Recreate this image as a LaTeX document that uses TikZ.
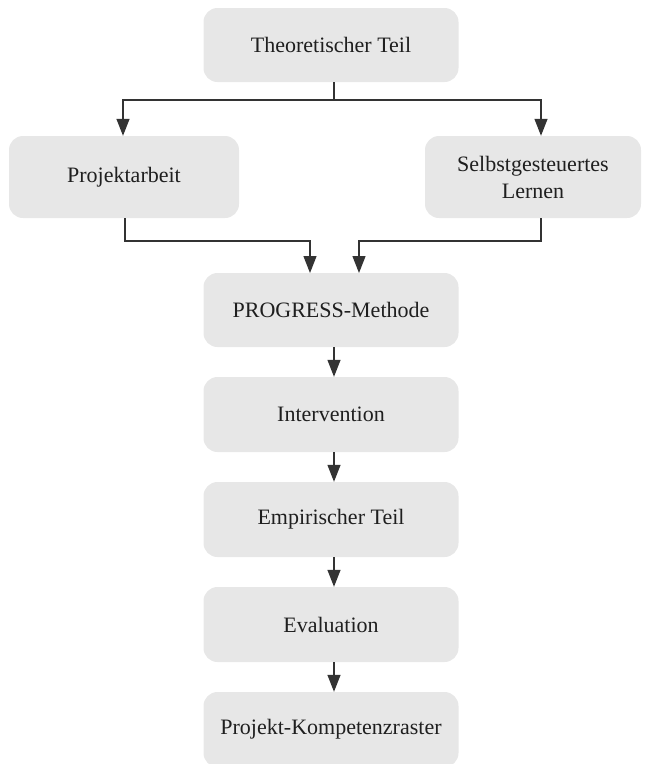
\documentclass[tikz,border=0pt]{standalone}
\usepackage{fontspec}
\setmainfont{Liberation Serif}
\usetikzlibrary{arrows.meta}
\begin{document}
\begin{tikzpicture}[x=1pt,y=-1pt,
  box/.style={fill=boxgray, rounded corners=14pt, inner sep=0pt, align=center, font=\fontsize{22}{27}\selectfont, text=black!88},
  conn/.style={draw=black!80, line width=1.3pt, -{Triangle[length=17pt,width=13pt]}},
  plain/.style={draw=black!80, line width=1.3pt}]
\definecolor{boxgray}{HTML}{E7E7E7}
\useasboundingbox (0,0) rectangle (649,764);
\node[box, minimum width=255pt, minimum height=74pt] (theo) at (331,45) {Theoretischer Teil};
\node[box, minimum width=230pt, minimum height=82pt] (proj) at (124,177) {Projektarbeit};
\node[box, minimum width=216pt, minimum height=82pt] (selb) at (533,177) {Selbstgesteuertes\\Lernen};
\node[box, minimum width=255pt, minimum height=74pt] (prog) at (331,310) {PROGRESS-Methode};
\node[box, minimum width=255pt, minimum height=75pt] (inter) at (331,414.5) {Intervention};
\node[box, minimum width=255pt, minimum height=75pt] (emp) at (331,519.5) {Empirischer Teil};
\node[box, minimum width=255pt, minimum height=75pt] (eval) at (331,624.5) {Evaluation};
\node[box, minimum width=255pt, minimum height=75pt] (pk) at (331,729.5) {Projekt-Kompetenzraster};
\coordinate (split) at (334,100);
\draw[plain] (theo.south -| split) -- (split);
\draw[conn] (split) -| ([xshift=-1pt]proj.north);
\draw[conn] (split) -| ([xshift=8pt]selb.north);
\draw[conn] ([xshift=1pt]proj.south) |- (310,241) -- (310,273);
\draw[conn] ([xshift=8pt]selb.south) |- (359,241) -- (359,273);
\draw[conn] (prog.south -| split) -- (inter.north -| split);
\draw[conn] (inter.south -| split) -- (emp.north -| split);
\draw[conn] (emp.south -| split) -- (eval.north -| split);
\draw[conn] (eval.south -| split) -- (pk.north -| split);
\end{tikzpicture}
\end{document}
